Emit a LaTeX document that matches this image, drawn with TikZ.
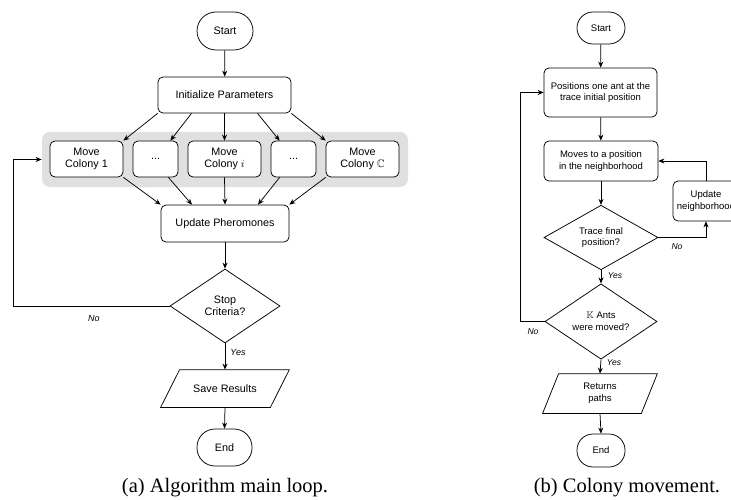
\documentclass[tikz,border=0pt]{standalone}
\usepackage{amssymb}
\usepackage{fontspec}
\setmainfont{Liberation Sans}
\newfontfamily\capfont{Liberation Serif}
\usetikzlibrary{shapes.geometric,arrows.meta,calc}
\begin{document}
\begin{tikzpicture}[x=1pt,y=-1pt,
  line width=0.75pt,
  arr/.style={-{Stealth[length=6pt,width=5pt]}},
  box/.style={draw, rectangle, rounded corners=5pt, inner sep=0pt, align=center, font=\fontsize{10.8}{12.5}\selectfont},
  sbox/.style={box, font=\fontsize{9.5}{11.7}\selectfont},
  term/.style={draw, rectangle, inner sep=0pt, align=center},
  dia/.style={draw, diamond, inner sep=0pt, align=center},
  io/.style={rectangle, inner sep=0pt, align=center},
  lbl/.style={font=\fontsize{9}{10}\itshape, inner sep=0pt},
  captext/.style={font=\capfont\fontsize{20.5}{24}\selectfont, inner sep=0pt}]
\useasboundingbox (0,0) rectangle (731,500);

% ---------- (a) ----------
\node[term, rounded corners=19pt, minimum width=56, minimum height=38, font=\fontsize{10.8}{12.5}\selectfont] (start) at (225,31) {Start};
\node[box, minimum width=133, minimum height=36] (init) at (224.5,95) {Initialize Parameters};
\node[fill=black!12, rounded corners=8pt, minimum width=366, minimum height=55, inner sep=0pt] (grp) at (225,159.5) {};
\node[box, fill=white, minimum width=73, minimum height=36] (c1) at (86.5,159) {Move\\Colony 1};
\node[box, fill=white, minimum width=45, minimum height=36] (d1) at (155.5,159) {...};
\node[box, fill=white, minimum width=73, minimum height=36] (ci) at (224.5,159) {Move\\Colony $i$};
\node[box, fill=white, minimum width=45, minimum height=36] (d2) at (293.5,159) {...};
\node[box, fill=white, minimum width=73, minimum height=36] (cc) at (362.5,159) {Move\\Colony $\mathbb{C}$};
\node[box, minimum width=128, minimum height=37] (up) at (225,223.5) {Update Pheromones};
\node[dia, minimum width=110, minimum height=74, font=\fontsize{10.8}{12.5}\selectfont] (stop) at (225,306) {Stop\\Criteria?};
\node[io, minimum width=128, minimum height=37, font=\fontsize{10.8}{12.5}\selectfont] (save) at (225,388.5) {Save Results};
\draw ($(save.north west)+(19,0)$) -- (save.north east) -- ($(save.south east)+(-19,0)$) -- (save.south west) -- cycle;
\node[term, rounded corners=18pt, minimum width=55, minimum height=37, font=\fontsize{10.8}{12.5}\selectfont] (end) at (224.5,447.5) {End};

\draw[arr] (start) -- (init);
\draw[arr] (init.south west) -- (c1.north east);
\draw[arr] ($(init.south)+(-33,0)$) -- ($(d1.north east)+(-8,0)$);
\draw[arr] (init.south) -- (ci.north);
\draw[arr] ($(init.south)+(33,0)$) -- ($(d2.north west)+(9,0)$);
\draw[arr] (init.south east) -- (cc.north west);
\draw[arr] (c1.south east) -- (up.north west);
\draw[arr] ($(d1.south east)+(-10,0)$) -- ($(up.north)+(-33,0)$);
\draw[arr] (ci.south) -- (up.north);
\draw[arr] ($(d2.south west)+(9,0)$) -- ($(up.north)+(33,0)$);
\draw[arr] (cc.south west) -- (up.north east);
\draw[arr] (up) -- (stop);
\coordinate (lp) at (13,306);
\draw[arr] (stop.west) -- (lp) |- (grp.west);
\draw[arr] (stop.south) -- (save.north);
\draw[arr] (save.south) -- (end.north);
\node[lbl] (no1) at (94,318) {No};
\node[lbl] (yes1) at (238,352) {Yes};
\node[captext] (capa) at (225,488) {(a) Algorithm main loop.};

% ---------- (b) ----------
\node[term, rounded corners=16pt, minimum width=48, minimum height=32, font=\fontsize{9.5}{11.7}\selectfont] (st2) at (601,28) {Start};
\node[sbox, minimum width=113, minimum height=49] (pos) at (600.5,92.5) {Positions one ant at the\\trace initial position};
\node[sbox, minimum width=114, minimum height=40] (mov) at (601,161) {Moves to a position\\in the neighborhood};
\node[sbox, minimum width=66, minimum height=40] (upd) at (706,201) {Update\\neighborhood};
\node[dia, minimum width=114, minimum height=63, font=\fontsize{9.5}{11.7}\selectfont] (tf) at (601,237.5) {Trace final\\position?};
\node[dia, minimum width=112, minimum height=63, font=\fontsize{9.5}{11.7}\selectfont] (ka) at (601,321.5) {$\mathbb{K}$ Ants\\were moved?};
\node[io, minimum width=114, minimum height=39, font=\fontsize{9.5}{11.7}\selectfont] (ret) at (600,393.5) {Returns\\paths};
\draw ($(ret.north west)+(16,0)$) -- (ret.north east) -- ($(ret.south east)+(-16,0)$) -- (ret.south west) -- cycle;
\node[term, rounded corners=16pt, minimum width=48, minimum height=33, font=\fontsize{9.5}{11.7}\selectfont] (en2) at (601,450.5) {End};

\draw[arr] (st2) -- (pos);
\draw[arr] (pos) -- (mov);
\draw[arr] (mov) -- (tf);
\draw[arr] (tf.south) -- (ka.north);
\draw[arr] (ka.south) -- (ret.north);
\draw[arr] (ret.south) -- (en2.north);
\draw[arr] (tf.east) -| (upd.south);
\draw[arr] (upd.north) |- (mov.east);
\coordinate (lp2) at (520,321.5);
\draw[arr] (ka.west) -- (lp2) |- (pos.west);
\node[lbl, font=\fontsize{8.5}{10}\itshape] (no2) at (677,247) {No};
\node[lbl, font=\fontsize{8.5}{10}\itshape] (yes2) at (615,276) {Yes};
\node[lbl, font=\fontsize{8.5}{10}\itshape] (no3) at (533,332) {No};
\node[lbl, font=\fontsize{8.5}{10}\itshape] (yes3) at (614,363) {Yes};
\node[captext] (capb) at (627,488) {(b) Colony movement.};
\end{tikzpicture}
\end{document}
